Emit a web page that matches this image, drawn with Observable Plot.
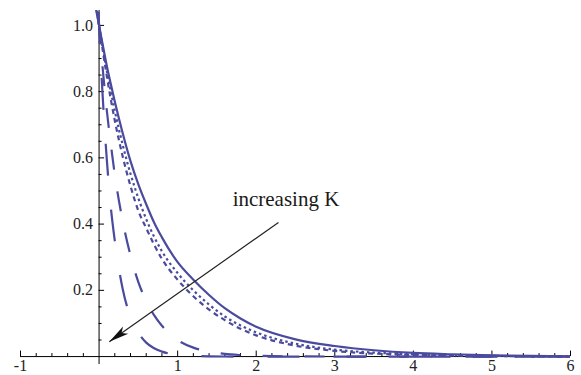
<!DOCTYPE html>
<html><head><meta charset="utf-8">
<script src="https://cdn.jsdelivr.net/npm/d3@7"></script>
<script src="https://cdn.jsdelivr.net/npm/@observablehq/plot@0.6"></script>
<style>html,body{margin:0;padding:0;background:#fff;} #chart svg{display:block;}</style>
</head><body><div id="chart"></div>
<script>
// ---- data ----
const eta = [-0.04, 0, 0.05, 0.1, 0.15, 0.2, 0.3, 0.4, 0.5, 0.6, 0.7, 0.8, 1.0, 1.2, 1.4, 1.6, 1.8, 2.0, 2.5, 3.0, 3.5, 4.0, 4.5, 5.0, 5.5, 6.0];
const fK1 = [1.05, 1, 0.937, 0.876, 0.822, 0.77, 0.675, 0.59, 0.52, 0.46, 0.405, 0.36, 0.285, 0.232, 0.186, 0.146, 0.115, 0.09, 0.052, 0.032, 0.019, 0.011, 0.007, 0.004, 0.002, 0.001];
const fK2 = [1.06, 1, 0.928, 0.861, 0.8, 0.742, 0.64, 0.552, 0.478, 0.415, 0.362, 0.318, 0.252, 0.2, 0.157, 0.121, 0.094, 0.073, 0.039, 0.021, 0.012, 0.007, 0.004, 0.002, 0.001, 0];
const fK3 = [1.07, 1, 0.92, 0.845, 0.776, 0.713, 0.605, 0.515, 0.44, 0.388, 0.338, 0.295, 0.232, 0.182, 0.142, 0.11, 0.084, 0.064, 0.033, 0.017, 0.009, 0.005, 0.003, 0.002, 0.001, 0];
const fK4 = [1.13, 1, 0.86, 0.74, 0.64, 0.55, 0.41, 0.305, 0.225, 0.168, 0.125, 0.093, 0.05, 0.027, 0.015, 0.008, 0.0045, 0.0025, 0.0006, 0.0001, 0, 0, 0, 0, 0, 0];
const fK5 = [1.24, 1, 0.77, 0.59, 0.45, 0.35, 0.205, 0.12, 0.072, 0.042, 0.025, 0.015, 0.005, 0.002, 0.0007, 0.0002, 0, 0, 0, 0, 0, 0, 0, 0, 0, 0];
const seriesNames = ["K1", "K2", "K3", "K4", "K5"];
const seriesValues = [fK1, fK2, fK3, fK4, fK5];

const xMajorTicks = [-1, 1, 2, 3, 4, 5, 6];
const xMinorTicks = d3.range(-5, 31).map(i => i / 5).filter(v => Math.abs(v - Math.round(v)) > 1e-9);
const yMajorTicks = [0.2, 0.4, 0.6, 0.8, 1.0];
const yMinorTicks = d3.range(1, 21).map(i => i / 20).filter(v => Math.abs(v * 5 - Math.round(v * 5)) > 1e-9);

const annotationText = ["increasing K"];
const annotationAt = [1.70, 0.456];
const arrowFrom = [2.283, 0.405];
const arrowTo = [0.13, 0.045];

// ---- styles ----
const W = 581, H = 375;
const mL = 20, mR = 11, mT = 10, mB = 9;
const xDomain = [-1, 6], yDomain = [-0.03, 1.045];
const curveColor = "#4a4a9e";
const dashes = {K1: null, K2: "2.5,3", K3: "5,4", K4: "20,22", K5: "32,34"};

const xs = d3.scaleLinear(xDomain, [mL, W - mR]);
const ys = d3.scaleLinear(yDomain, [H - mB, mT]);
const kx = (W - mL - mR) / (xDomain[1] - xDomain[0]);
const ky = (H - mT - mB) / (yDomain[1] - yDomain[0]);
const px2x = p => p / kx, px2y = p => p / ky;

const rows = seriesNames.flatMap((s, j) => eta.map((e, i) => ({eta: e, value: seriesValues[j][i], series: s})));

// arrowhead pointing up with tip at origin
const arrowHead = {
  draw(ctx) {
    ctx.moveTo(0, 0);
    ctx.lineTo(-4.5, 20);
    ctx.lineTo(0, 15);
    ctx.lineTo(4.5, 20);
    ctx.closePath();
  }
};
const dxp = xs(arrowTo[0]) - xs(arrowFrom[0]);
const dyp = ys(arrowTo[1]) - ys(arrowFrom[1]);
const headAngle = Math.atan2(dxp, -dyp) * 180 / Math.PI;

const serif = "'Liberation Serif', 'DejaVu Serif', serif";

const marks = [
  // axes
  Plot.ruleY([0], {x1: xDomain[0], x2: xDomain[1], stroke: "#000", strokeWidth: 1}),
  Plot.ruleX([0], {y1: -px2y(8), y2: yDomain[1], stroke: "#000", strokeWidth: 1}),
  Plot.ruleX(xMajorTicks, {x: d => d, y1: 0, y2: px2y(5.5), stroke: "#000"}),
  Plot.ruleX(xMinorTicks, {x: d => d, y1: 0, y2: px2y(3), stroke: "#000"}),
  Plot.ruleY(yMajorTicks, {y: d => d, x1: 0, x2: px2x(5.5), stroke: "#000"}),
  Plot.ruleY(yMinorTicks, {y: d => d, x1: 0, x2: px2x(3), stroke: "#000"}),
  // tick labels
  Plot.text(xMajorTicks, {x: d => d, y: 0, text: d => String(d), dy: 3, lineAnchor: "top", fontFamily: serif, fontSize: 16, fill: "#222"}),
  Plot.text(yMajorTicks, {x: 0, y: d => d, text: d => d.toFixed(1), dx: -6, textAnchor: "end", lineAnchor: "middle", fontFamily: serif, fontSize: 16, fill: "#222"}),
  // curves
  ...seriesNames.map(s => Plot.line(rows.filter(r => r.series === s), {
    x: "eta", y: "value", stroke: curveColor, strokeWidth: 2.2,
    strokeDasharray: dashes[s], strokeLinecap: "butt", clip: true, curve: "monotone-x"
  })),
  // annotation
  Plot.link([0], {x1: arrowFrom[0], y1: arrowFrom[1], x2: arrowTo[0], y2: arrowTo[1], stroke: "#222", strokeWidth: 1.2}),
  Plot.dot([0], {x: arrowTo[0], y: arrowTo[1], symbol: arrowHead, r: 5, fill: "#111", stroke: "none", rotate: headAngle}),
  Plot.text(annotationText, {x: annotationAt[0], y: annotationAt[1], text: d => d, textAnchor: "start", lineAnchor: "bottom", fontFamily: serif, fontSize: 21, fill: "#1a1a1a"})
];

const chart = Plot.plot({
  width: W, height: H,
  marginLeft: mL, marginRight: mR, marginTop: mT, marginBottom: mB,
  x: {domain: xDomain, axis: null},
  y: {domain: yDomain, axis: null},
  style: {background: "#fff", overflow: "visible"},
  marks
});
document.getElementById("chart").appendChild(chart);
</script>
</body></html>
